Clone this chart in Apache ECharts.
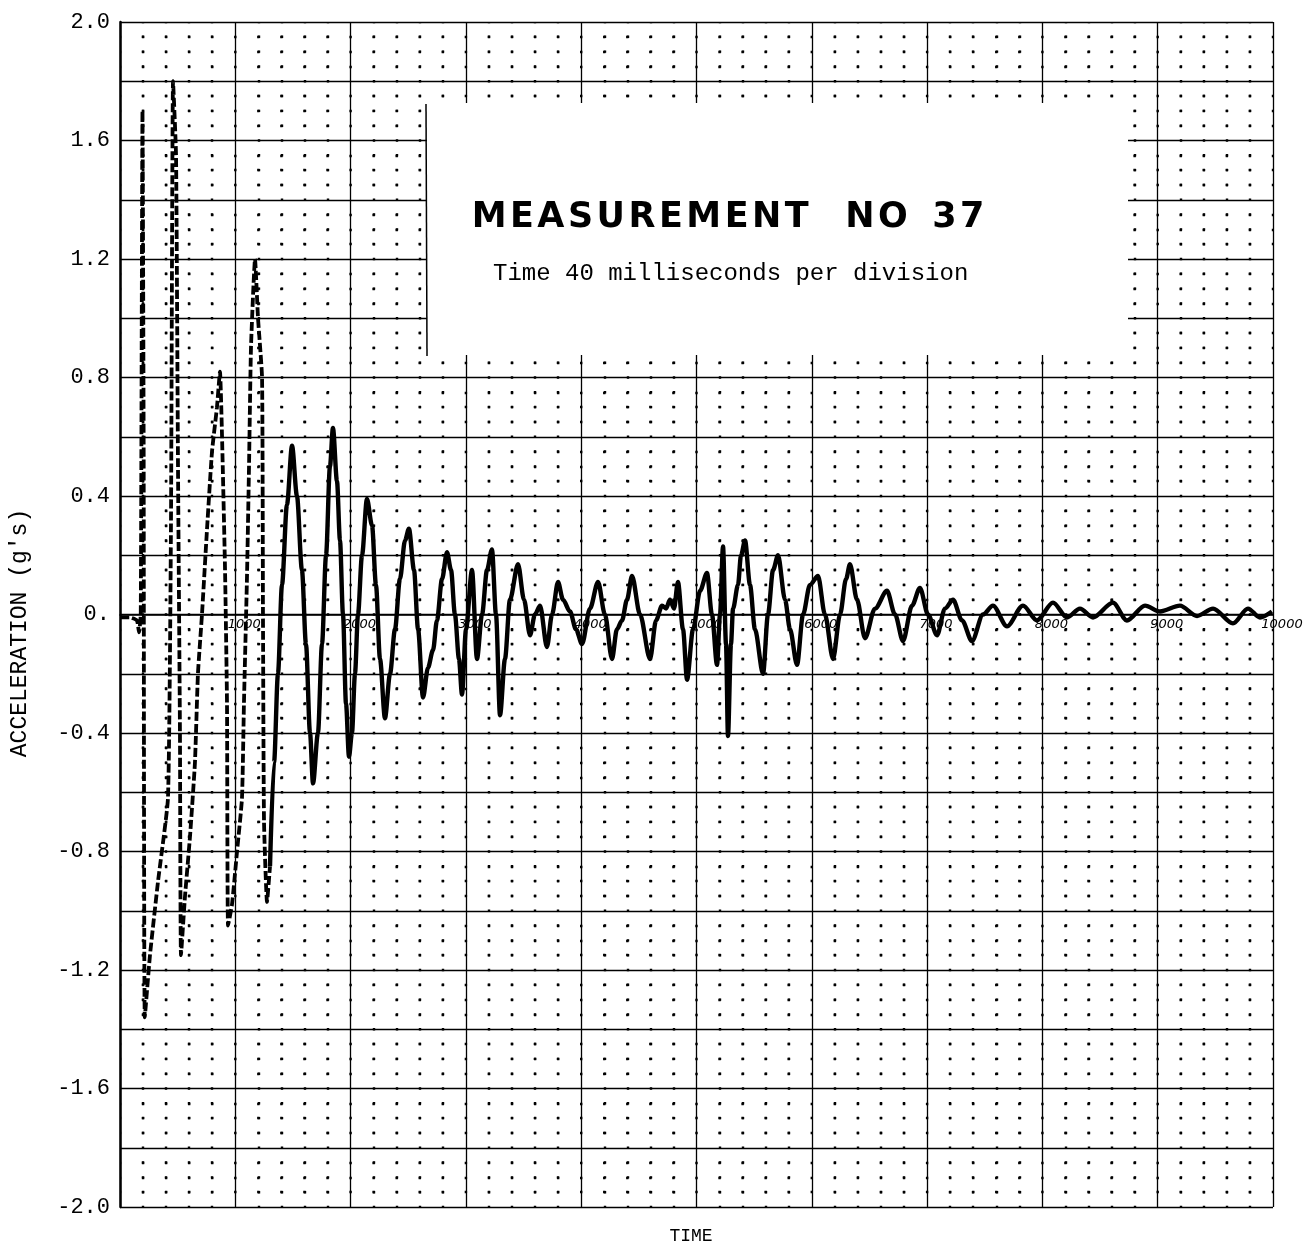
<!DOCTYPE html>
<html>
<head>
<meta charset="utf-8">
<script src="https://cdn.jsdelivr.net/npm/echarts@6/dist/echarts.min.js"></script>
<style>html,body{margin:0;padding:0;background:#fff}#c{width:1309px;height:1256px}</style>
</head>
<body>
<div id="c"></div>
<script>
// time (plot units, 1000 per division) and acceleration (g's)
const timeMs = [0,87,147,165,180,195,205,215,260,330,416,442,460,486,503,520,529,564,607,650,676,711,755,798,841,867,885,911,928,937,971,1015,1058,1075,1101,1119,1136,1171,1197,1232,1240,1249,1275,1301,
1336,1370,1405,1448,1492,1535,1578,1613,1648,1674,1717,1752,1787,1821,1847,1882,1908,1934,1960,1986,2012,2038,2064,2099,2142,2186,2220,2255,2298,2342,2385,2428,2472,2506,2550,2585,2628,2671,2715,2749,2793,2836,2871,2905,2940,2966,3001,3053,3096,3140,3183,3226,3261,3296,3339,3382,3452,3504,3556,3599,3643,3703,3747,3799,3842,3903,3955,4007,4076,4146,4206,4267,4310,4354,4397,4441,4510,4597,4649,4701,4736,4770,4805,4839,4883,4918,4970,5031,5091,5134,5178,5204,5230,5256,5273,5299,5317,5360,5386,5421,5464,5507,5577,5620,5664,5707,5768,5811,5872,5924,5984,6054,6114,6184,6245,6297,6331,6392,6461,6548,6652,6722,6791,6869,6938,7008,7086,7155,7225,7303,7389,7485,7571,7693,7832,7953,8092,8213,8326,8439,8612,8733,8890,9020,9193,9341,9480,9653,9783,9887,9991];
const accel = [-0.01,-0.01,-0.02,-0.06,0.0,1.70,0.6,-1.36,-1.15,-0.9,-0.62,0.3,1.80,1.55,0.5,-0.4,-1.15,-0.95,-0.75,-0.5,-0.2,0.0,0.29,0.55,0.7,0.82,0.6,0.15,-0.3,-1.05,-0.98,-0.8,-0.62,-0.3,0.12,0.5,0.9,1.20,1.0,0.8,0.0,-0.7,-0.97,-0.85,
-0.5,-0.2,0.1,0.37,0.57,0.4,0.15,-0.1,-0.4,-0.57,-0.4,-0.1,0.2,0.5,0.63,0.45,0.25,0.0,-0.3,-0.48,-0.4,-0.2,0.0,0.2,0.39,0.3,0.1,-0.15,-0.35,-0.2,-0.05,0.12,0.25,0.29,0.15,-0.05,-0.28,-0.18,-0.12,-0.02,0.12,0.21,0.15,0.0,-0.15,-0.27,-0.05,0.15,-0.15,0.0,0.15,0.22,0.0,-0.34,-0.15,0.05,0.17,0.05,-0.07,0.0,0.03,-0.11,0.0,0.11,0.05,0.01,-0.05,-0.1,0.02,0.11,0.0,-0.15,-0.05,-0.02,0.05,0.13,0.0,-0.15,-0.02,0.03,0.02,0.05,0.02,0.11,-0.05,-0.22,-0.05,0.08,0.14,0.0,-0.17,0.0,0.23,-0.1,-0.41,-0.1,0.02,0.1,0.2,0.25,0.1,-0.05,-0.2,0.0,0.15,0.2,0.05,-0.05,-0.17,0.0,0.1,0.13,0.0,-0.15,0.0,0.12,0.17,0.05,-0.08,0.02,0.08,0.0,-0.09,0.03,0.09,0.0,-0.07,0.02,0.05,-0.02,-0.09,0.0,0.03,-0.04,0.03,-0.02,0.04,-0.01,0.02,-0.01,0.04,-0.02,0.03,0.01,0.03,-0.005,0.02,-0.03,0.02,-0.01,0.01];
const xTickLabels = ['', '1000','2000','3000','4000','5000','6000','7000','8000','9000','10000'];
const yTickLabels = ['2.0','1.6','1.2','0.8','0.4','0.','-0.4','-0.8','-1.2','-1.6','-2.0'];
const earlyEnd = 1301; // fast early swings drawn as broken trace

const pts = timeMs.map((t, i) => [t, accel[i]]);
const early = pts.filter(p => p[0] <= earlyEnd);
const late = pts.filter(p => p[0] >= earlyEnd);

const G = {left: 120, top: 22, width: 1153, height: 1185};
const dx = G.width / 50, dy = G.height / 80, dot = 2.4;
const mono = 'Liberation Mono';
const spaced = s => s.split('').join('\u200A');

const chart = echarts.init(document.getElementById('c'), null, {renderer: 'canvas'});
chart.setOption({
  backgroundColor: '#fff',
  animation: false,
  grid: {left: G.left, top: G.top, width: G.width, height: G.height, containLabel: false, outerBoundsMode: 'none'},
  xAxis: {
    type: 'value', min: 0, max: 10000, interval: 1000, position: 'bottom',
    offset: -G.height / 2,
    axisLine: {show: true, onZero: false, lineStyle: {color: '#000', width: 1.6}},
    axisTick: {show: false},
    axisLabel: {
      color: '#000', fontSize: 13, fontStyle: 'italic', fontFamily: 'DejaVu Sans', margin: 4,
      padding: [0, 0, 0, 18],
      formatter: v => xTickLabels[Math.round(v / 1000)] || ''
    },
    splitLine: {show: true, lineStyle: {color: '#000', width: 1.3}},
    minorTick: {show: false, splitNumber: 5},
    minorSplitLine: {show: true, lineStyle: {color: '#000', width: dot, type: [dot, dy - dot], dashOffset: dot / 2}}
  },
  yAxis: {
    type: 'value', min: -2, max: 2, interval: 0.2,
    axisLine: {show: true, onZero: false, lineStyle: {color: '#000', width: 2.5}},
    axisTick: {show: false},
    axisLabel: {
      color: '#000', fontSize: 22, fontFamily: mono, margin: 10,
      formatter: v => {
        const k = Math.round((2 - v) / 0.4 * 1000) / 1000;
        return Number.isInteger(k) ? yTickLabels[k] : '';
      }
    },
    splitLine: {show: true, lineStyle: {color: '#000', width: 1.3}},
    minorTick: {show: false, splitNumber: 4},
    minorSplitLine: {show: true, lineStyle: {color: '#000', width: dot, type: [dot, dx - dot], dashOffset: dot / 2}}
  },
  series: [
    {type: 'line', data: early, showSymbol: false, smooth: 0.15, z: 5,
     lineStyle: {color: '#000', width: 3.8, type: [9, 3]}},
    {type: 'line', data: late, showSymbol: false, smooth: 0.3, smoothMonotone: 'x', z: 5,
     lineStyle: {color: '#000', width: 4.4}}
  ],
  graphic: [
    {type: 'rect', z: 100, shape: {x: 427, y: 103, width: 701, height: 252}, style: {fill: '#fff'}},
    {type: 'line', z: 101, shape: {x1: 426, y1: 104, x2: 427, y2: 356}, style: {stroke: '#000', lineWidth: 1.5}},
    {type: 'text', z: 101, x: 728, y: 218, style: {text: spaced('MEASUREMENT') + '   ' + spaced('NO') + '  ' + spaced('37'), fill: '#000',
      font: 'bold 35px "DejaVu Sans"', textAlign: 'center', textVerticalAlign: 'middle'}},
    {type: 'text', z: 101, x: 493, y: 274, style: {text: 'Time 40 milliseconds per division', fill: '#000',
      font: '24px "Liberation Mono"', textAlign: 'left', textVerticalAlign: 'middle'}},
    {type: 'text', z: 101, x: 20, y: 633, rotation: Math.PI / 2, style: {text: "ACCELERATION (g's)", fill: '#000',
      font: '23px "Liberation Mono"', textAlign: 'center', textVerticalAlign: 'middle'}},
    {type: 'text', z: 101, x: 691, y: 1236, style: {text: 'TIME', fill: '#000',
      font: '18px "Liberation Mono"', textAlign: 'center', textVerticalAlign: 'middle'}}
  ]
});
</script>
</body>
</html>
